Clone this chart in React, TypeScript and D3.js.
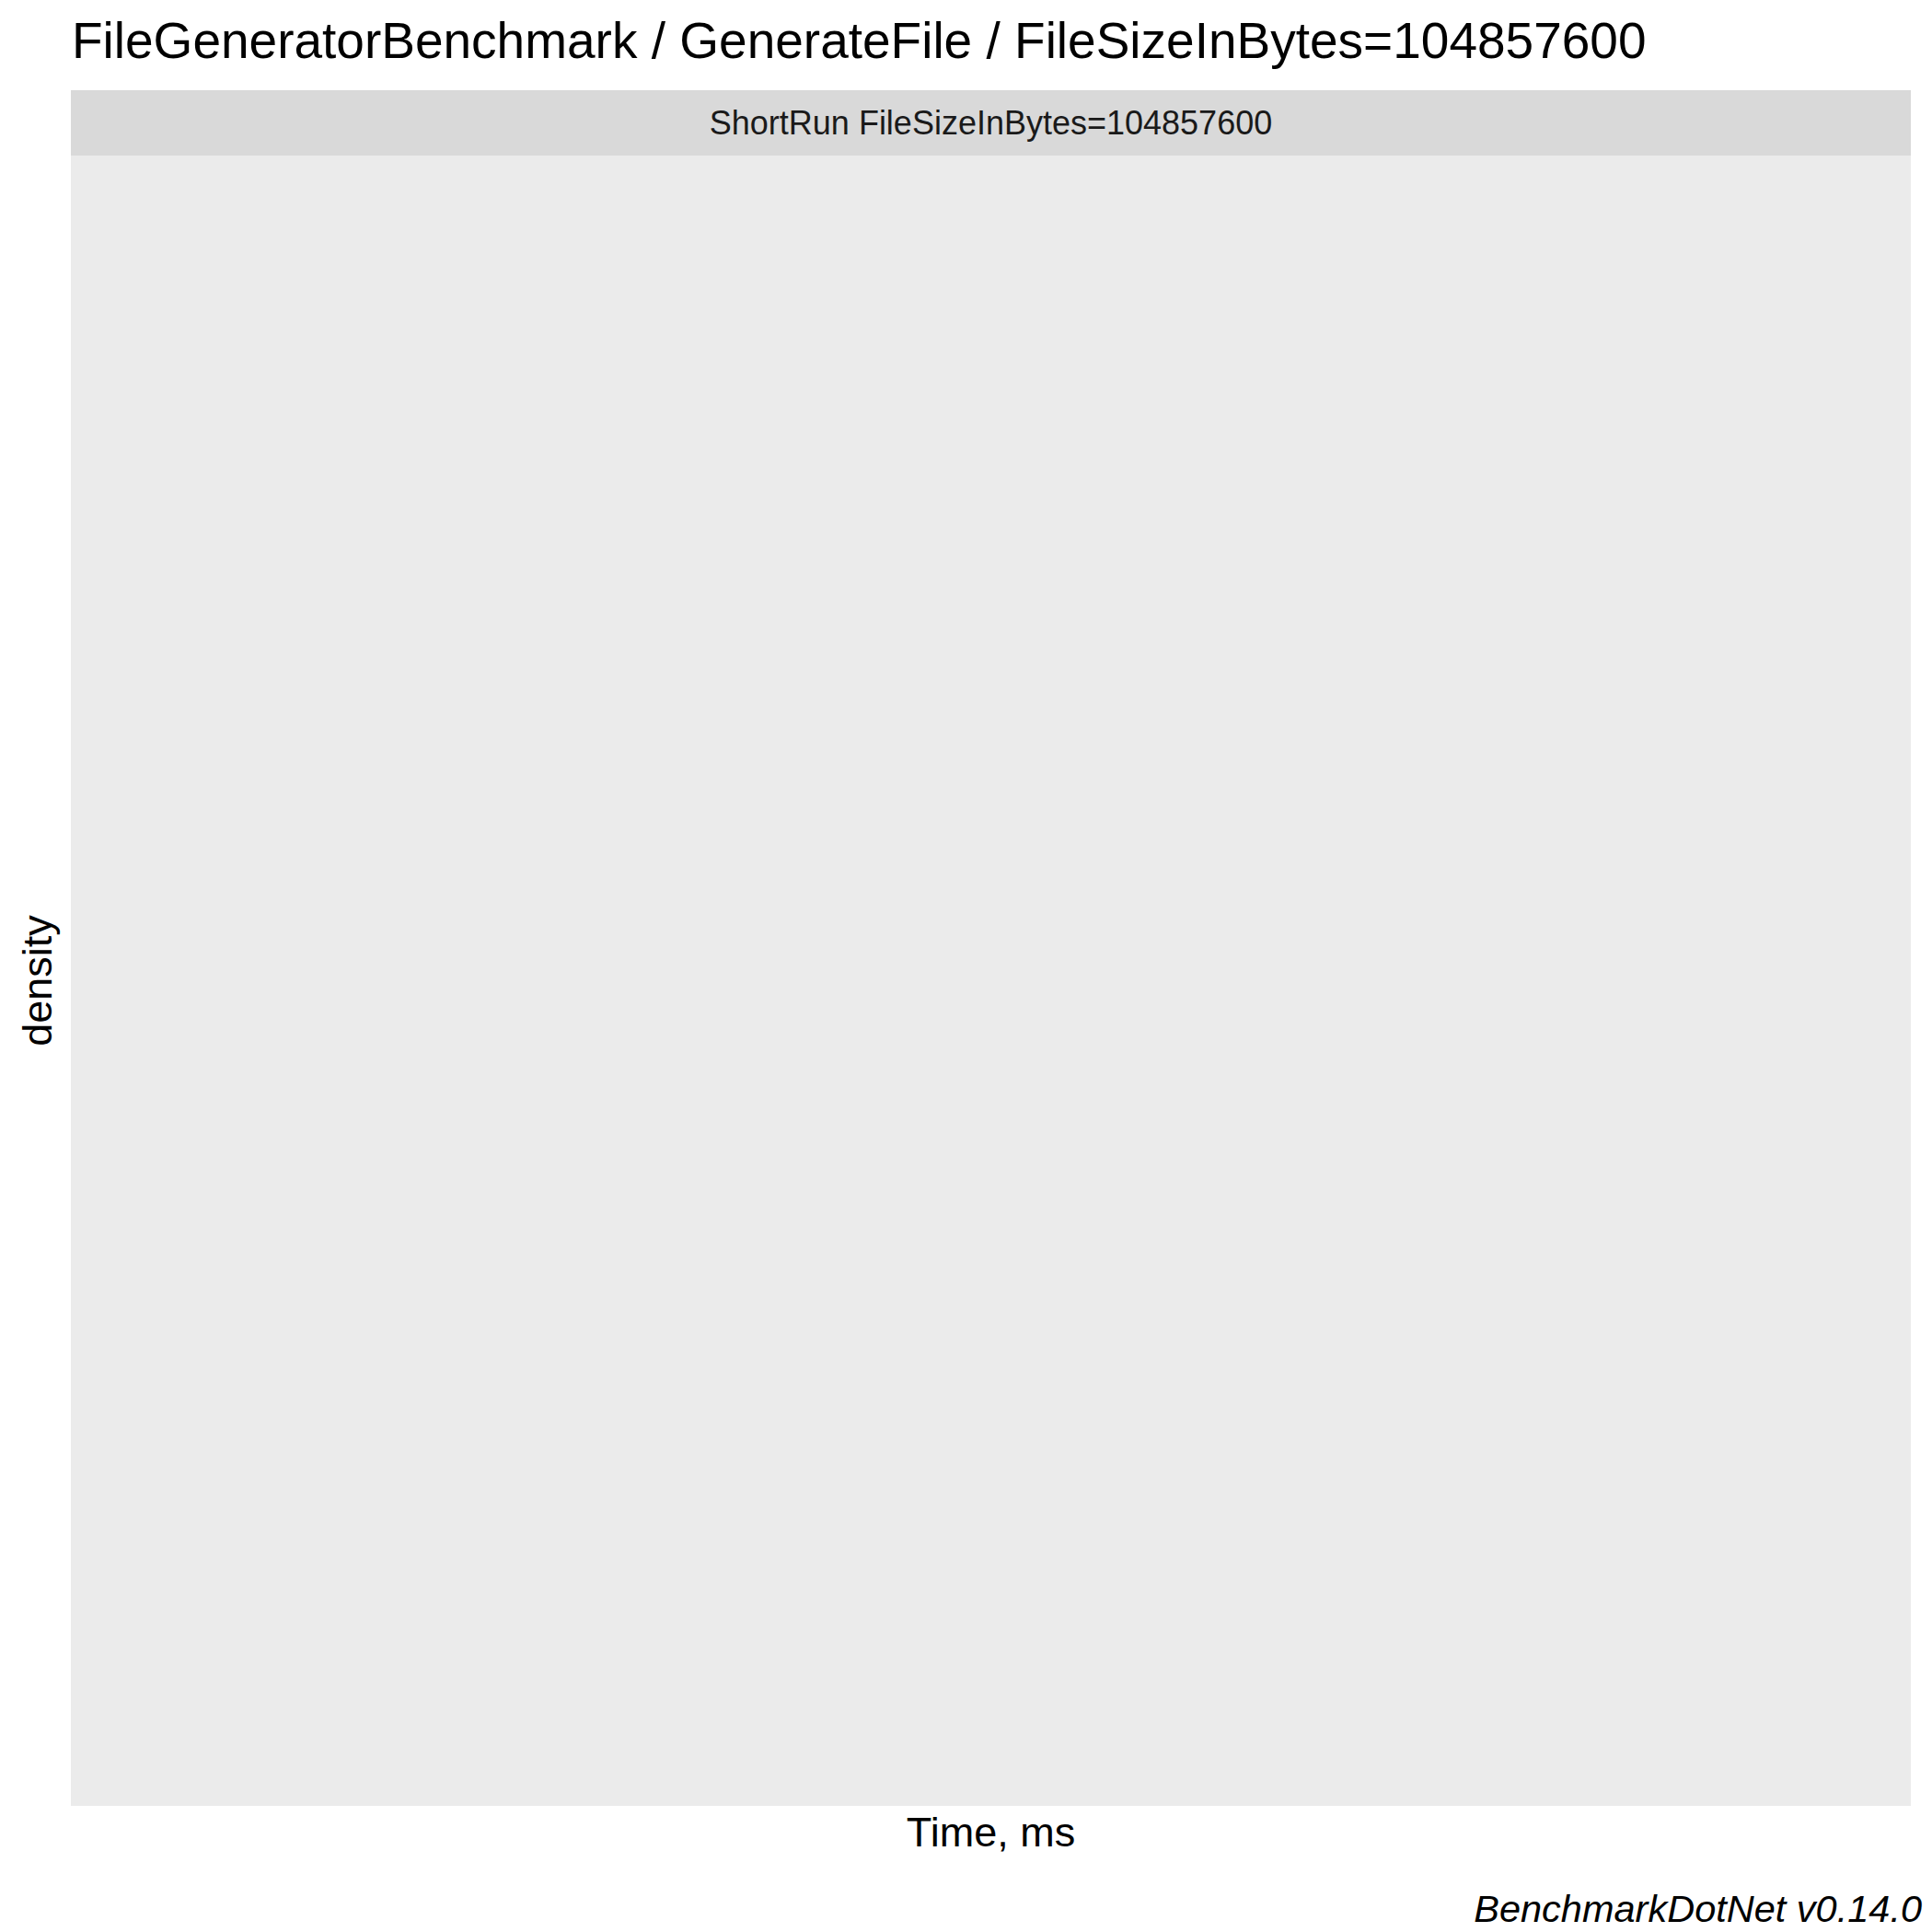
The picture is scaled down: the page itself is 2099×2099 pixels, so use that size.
import React, { useEffect, useRef } from 'react';
import * as d3 from 'd3';

// The benchmark produced no measurements, so the density panel is empty
const times: number[] = [];
const densities: number[] = [];
const facetLabels = ['ShortRun FileSizeInBytes=104857600'];

const title = 'FileGeneratorBenchmark / GenerateFile / FileSizeInBytes=104857600';
const xTitle = 'Time, ms';
const yTitle = 'density';
const caption = 'BenchmarkDotNet v0.14.0';

const W = 2099;
const H = 2099;
const FONT = '"Liberation Sans", Arial, Helvetica, sans-serif';

const App = () => {
  const svgRef = useRef<SVGSVGElement>(null);

  useEffect(() => {
    const svg = d3.select(svgRef.current);
    svg.selectAll('*').remove();

    // panel geometry (ggplot-like layout)
    const panel = { left: 77, right: 2076, stripTop: 98, stripBottom: 169, bottom: 1962 };

    const x = d3.scaleLinear()
      .domain(times.length ? (d3.extent(times) as [number, number]) : [0, 1])
      .range([panel.left, panel.right]);
    const y = d3.scaleLinear()
      .domain([0, d3.max(densities) ?? 1])
      .range([panel.bottom, panel.stripBottom]);

    svg.append('rect')
      .attr('width', W)
      .attr('height', H)
      .attr('fill', '#ffffff');

    // title
    svg.append('text')
      .attr('x', panel.left + 1)
      .attr('y', 63)
      .style('font-family', FONT)
      .style('font-size', '55px')
      .style('fill', '#000000')
      .text(title);

    // strip
    svg.append('rect')
      .attr('x', panel.left)
      .attr('y', panel.stripTop)
      .attr('width', panel.right - panel.left)
      .attr('height', panel.stripBottom - panel.stripTop)
      .attr('fill', '#d9d9d9');

    svg.selectAll('.strip-label')
      .data(facetLabels)
      .enter()
      .append('text')
      .attr('class', 'strip-label')
      .attr('x', (panel.left + panel.right) / 2)
      .attr('y', 146)
      .attr('text-anchor', 'middle')
      .style('font-family', FONT)
      .style('font-size', '36px')
      .style('fill', '#1a1a1a')
      .text(d => d);

    // panel background
    svg.append('rect')
      .attr('x', panel.left)
      .attr('y', panel.stripBottom)
      .attr('width', panel.right - panel.left)
      .attr('height', panel.bottom - panel.stripBottom)
      .attr('fill', '#ebebeb');

    // density line (no data points)
    if (times.length > 0) {
      const line = d3.line<number>()
        .x((_, i) => x(times[i]))
        .y(d => y(d));
      svg.append('path')
        .datum(densities)
        .attr('d', line)
        .attr('fill', 'none')
        .attr('stroke', '#000');
    }

    // axis titles
    svg.append('text')
      .attr('x', (panel.left + panel.right) / 2)
      .attr('y', 2006)
      .attr('text-anchor', 'middle')
      .style('font-family', FONT)
      .style('font-size', '45px')
      .style('fill', '#000000')
      .text(xTitle);

    svg.append('text')
      .attr('transform', `translate(56,${(panel.stripBottom + panel.bottom) / 2}) rotate(-90)`)
      .attr('text-anchor', 'middle')
      .style('font-family', FONT)
      .style('font-size', '45px')
      .style('fill', '#000000')
      .text(yTitle);

    // caption
    svg.append('text')
      .attr('x', 2088)
      .attr('y', 2088)
      .attr('text-anchor', 'end')
      .style('font-family', FONT)
      .style('font-size', '41.5px')
      .style('font-style', 'italic')
      .style('fill', '#000000')
      .text(caption);
  }, []);

  return (
    <svg
      ref={svgRef}
      width={W}
      height={H}
      style={{ position: 'absolute', left: 0, top: 0, display: 'block' }}
    />
  );
};

export default App;
